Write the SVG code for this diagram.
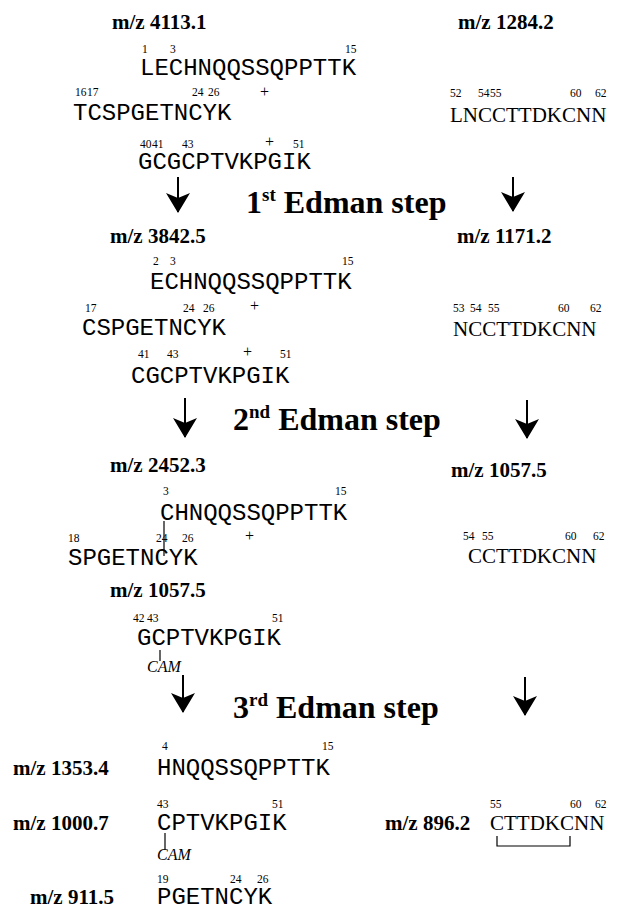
<svg xmlns="http://www.w3.org/2000/svg" width="637" height="911" viewBox="0 0 637 911">
<style>
.mz{font-family:"Liberation Serif","Times New Roman",serif;font-weight:bold;font-size:21px;fill:#000}
.seq{font-family:"Liberation Mono","Courier New",monospace;font-size:24px;fill:#000}
.rs{font-family:"Liberation Serif","Times New Roman",serif;font-size:21px;fill:#000}
.n{font-family:"Liberation Serif","Times New Roman",serif;font-size:11.5px;fill:#000}
.pl{font-family:"Liberation Serif","Times New Roman",serif;font-size:16px;fill:#000}
.cam{font-family:"Liberation Serif","Times New Roman",serif;font-style:italic;font-size:16px;fill:#000}
.step{font-family:"Liberation Serif","Times New Roman",serif;font-weight:bold;font-size:32px;fill:#000}
.ln{stroke:#000;stroke-width:1.2;fill:none}
.arr{stroke:#000;stroke-width:2;fill:none;marker-end:url(#ah)}
</style>
<defs>
<marker id="ah" viewBox="0 0 20 24" refX="19" refY="12" markerWidth="20" markerHeight="24" markerUnits="userSpaceOnUse" orient="auto">
<path d="M0,0 L20,12 L0,24 L5,12 Z" fill="#000"/>
</marker>
</defs>
<rect width="637" height="911" fill="#fff"/>

<g id="s1-left">
<text class="mz" x="112" y="29">m/z 4113.1</text>
<text class="n" x="142" y="53">1</text><text class="n" x="170" y="53">3</text><text class="n" x="345" y="53">15</text>
<text class="seq" x="140" y="75">LECHNQQSSQPPTTK</text>
<text class="n" x="75" y="96">16</text><text class="n" x="87" y="96">17</text><text class="n" x="192" y="96">24</text><text class="n" x="208" y="96">26</text>
<text class="pl" x="260" y="97">+</text>
<text class="seq" x="73" y="120">TCSPGETNCYK</text>
<text class="n" x="140" y="148">40</text><text class="n" x="152" y="148">41</text><text class="n" x="182" y="148">43</text><text class="n" x="293" y="148">51</text>
<text class="pl" x="265" y="147">+</text>
<text class="seq" x="138" y="169">GCGCPTVKPGIK</text>
</g>

<g id="s1-right">
<text class="mz" x="458" y="29">m/z 1284.2</text>
<text class="n" x="450" y="97">52</text><text class="n" x="478" y="97">54</text><text class="n" x="490" y="97">55</text><text class="n" x="570" y="97">60</text><text class="n" x="595" y="97">62</text>
<text class="rs" x="450" y="122">LNCCTTDKCNN</text>
</g>

<g id="step1">
<text class="step" x="246" y="213">1<tspan font-size="19" dy="-12">st</tspan><tspan dy="12"> Edman step</tspan></text>
</g>

<g id="s2-left">
<text class="mz" x="110" y="243">m/z 3842.5</text>
<text class="n" x="153" y="265">2</text><text class="n" x="170" y="265">3</text><text class="n" x="342" y="265">15</text>
<text class="seq" x="150" y="289">ECHNQQSSQPPTTK</text>
<text class="n" x="85" y="312">17</text><text class="n" x="183" y="312">24</text><text class="n" x="203" y="312">26</text>
<text class="pl" x="250" y="311">+</text>
<text class="seq" x="82" y="335">CSPGETNCYK</text>
<text class="n" x="138" y="358">41</text><text class="n" x="167" y="358">43</text><text class="n" x="280" y="358">51</text>
<text class="pl" x="243" y="357">+</text>
<text class="seq" x="131" y="383">CGCPTVKPGIK</text>
</g>

<g id="s2-right">
<text class="mz" x="457" y="243">m/z 1171.2</text>
<text class="n" x="453" y="312">53</text><text class="n" x="470" y="312">54</text><text class="n" x="488" y="312">55</text><text class="n" x="558" y="312">60</text><text class="n" x="590" y="312">62</text>
<text class="rs" x="453" y="336">NCCTTDKCNN</text>
</g>

<g id="step2">
<text class="step" x="233" y="430">2<tspan font-size="19" dy="-12">nd</tspan><tspan dy="12"> Edman step</tspan></text>
</g>

<g id="s3-left">
<text class="mz" x="110" y="472">m/z 2452.3</text>
<text class="n" x="163" y="495">3</text><text class="n" x="335" y="495">15</text>
<text class="seq" x="160" y="520">CHNQQSSQPPTTK</text>
<text class="n" x="68" y="542">18</text><text class="n" x="156" y="542">24</text><text class="n" x="182" y="542">26</text>
<text class="pl" x="245" y="541">+</text>
<text class="seq" x="68" y="565">SPGETNCYK</text>
<line class="ln" x1="164" y1="521" x2="164" y2="556"/>
</g>

<g id="s3-left2">
<text class="mz" x="110" y="597">m/z 1057.5</text>
<text class="n" x="133" y="622">42</text><text class="n" x="147" y="622">43</text><text class="n" x="272" y="622">51</text>
<text class="seq" x="137" y="645">GCPTVKPGIK</text>
<line class="ln" x1="160" y1="650" x2="160" y2="661"/>
<text class="cam" x="147" y="672">CAM</text>
</g>

<g id="s3-right">
<text class="mz" x="451" y="477">m/z 1057.5</text>
<text class="n" x="463" y="540">54</text><text class="n" x="482" y="540">55</text><text class="n" x="565" y="540">60</text><text class="n" x="593" y="540">62</text>
<text class="rs" x="468" y="563">CCTTDKCNN</text>
</g>

<g id="step3">
<text class="step" x="233" y="718">3<tspan font-size="19" dy="-12">rd</tspan><tspan dy="12"> Edman step</tspan></text>
</g>

<g id="s4-a">
<text class="mz" x="13" y="775">m/z 1353.4</text>
<text class="n" x="162" y="750">4</text><text class="n" x="322" y="750">15</text>
<text class="seq" x="157" y="775">HNQQSSQPPTTK</text>
</g>

<g id="s4-b">
<text class="mz" x="13" y="830">m/z 1000.7</text>
<text class="n" x="157" y="808">43</text><text class="n" x="272" y="808">51</text>
<text class="seq" x="157" y="830">CPTVKPGIK</text>
<line class="ln" x1="165" y1="833" x2="165" y2="850"/>
<text class="cam" x="157" y="860">CAM</text>
</g>

<g id="s4-c">
<text class="mz" x="30" y="904">m/z 911.5</text>
<text class="n" x="157" y="883">19</text><text class="n" x="230" y="883">24</text><text class="n" x="257" y="883">26</text>
<text class="seq" x="157" y="904">PGETNCYK</text>
</g>

<g id="s4-right">
<text class="mz" x="385" y="830">m/z 896.2</text>
<text class="n" x="490" y="808">55</text><text class="n" x="570" y="808">60</text><text class="n" x="595" y="808">62</text>
<text class="rs" x="490" y="830">CTTDKCNN</text>
<path class="ln" d="M497,836 V846 H570 V836"/>
</g>

<g id="connectors">
<line class="arr" x1="178" y1="177" x2="178" y2="212"/>
<line class="arr" x1="513" y1="177" x2="513" y2="211"/>
<line class="arr" x1="185" y1="398" x2="185" y2="437"/>
<line class="arr" x1="527" y1="400" x2="527" y2="438"/>
<line class="arr" x1="183" y1="675" x2="183" y2="712"/>
<line class="arr" x1="525" y1="677" x2="525" y2="715"/>
</g>
</svg>
